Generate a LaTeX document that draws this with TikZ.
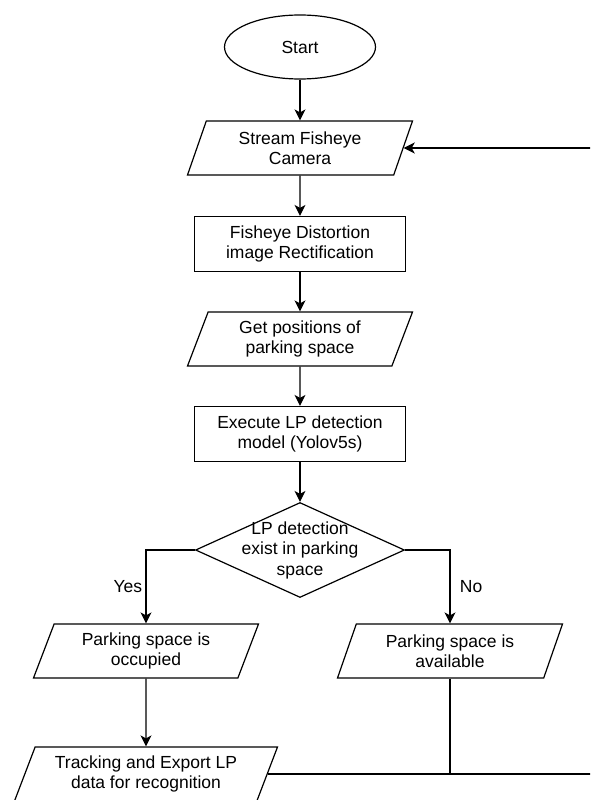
\documentclass[tikz,border=0pt]{standalone}
\usepackage{fontspec}
\setmainfont{Liberation Sans}
\usetikzlibrary{shapes.geometric,arrows.meta}

\begin{document}
\begin{tikzpicture}[
  x=1pt, y=-1pt, line width=1.2pt,  font=\fontsize{17.5}{20.5}\selectfont,  terminal/.style={ellipse,draw,minimum width=151pt,minimum height=64pt},  inout/.style={trapezium,draw,trapezium left angle=62,trapezium right angle=118,trapezium stretches body,minimum width=225pt,minimum height=54pt,align=center,inner sep=1pt},  process/.style={rectangle,draw,minimum width=211pt,minimum height=55pt,align=center},  decision/.style={diamond,draw,minimum width=209pt,minimum height=95pt,inner sep=0pt},  arrow/.style={-{Stealth[length=11pt,width=11pt,inset=3pt]}}
]
  \clip (0,0) rectangle (590,800);
  \node[terminal] (start) at (300,47) {Start};
  \node[inout] (stream) at (300,148) {Stream Fisheye\\Camera};
  \node[process] (rectify) at (300,244) {Fisheye Distortion\\image Rectification};
  \node[inout] (getpos) at (300,339) {Get positions of\\parking space};
  \node[process] (execute) at (300,434) {Execute LP detection\\model (Yolov5s)};
  \node[decision,label={[align=center]center:LP detection\\exist in parking\\space}] (decide) at (300,550) {};
  \node[inout] (occupied) at (146,651) {Parking space is\\occupied};
  \node[inout] (available) at (450,651) {Parking space is\\available};
  \node[inout,minimum width=263pt] (tracking) at (146,774) {Tracking and Export LP\\data for recognition};
  \coordinate (back) at (620,774);
  \draw[arrow] (start) -- (stream);
  \draw[arrow] (stream) -- (rectify);
  \draw[arrow] (rectify) -- (getpos);
  \draw[arrow] (getpos) -- (execute);
  \draw[arrow] (execute) -- (decide);
  \draw[arrow] (decide.west) -| node[pos=0.75,left] {Yes} (occupied);
  \draw[arrow] (decide.east) -| node[pos=0.75,right,xshift=6pt] {No} (available);
  \draw[arrow] (occupied) -- (tracking);
  \draw (available) -- (available |- tracking.right side);
  \draw[arrow] (tracking.right side) -- (back) |- (stream.right side);
\end{tikzpicture}
\end{document}
